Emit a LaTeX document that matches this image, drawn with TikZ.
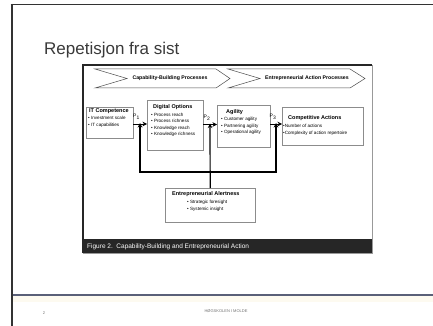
\documentclass[tikz,border=0pt]{standalone}
\usepackage{fontspec}
\setmainfont{Liberation Sans}
\usetikzlibrary{arrows.meta}

\definecolor{slideline}{HTML}{333333}
\definecolor{footline}{HTML}{5A6078}
\definecolor{footband}{HTML}{FDFAF0}
\definecolor{titlegrey}{HTML}{3A3A3A}
\definecolor{capbar}{HTML}{262626}

\begin{document}
\begin{tikzpicture}[x=1pt,y=-1pt,
  box/.style={draw=black!45, line width=0.4pt, fill=white, inner sep=0pt, anchor=north west},
  ttl/.style={font=\fontsize{5.5}{6}\selectfont\bfseries, anchor=north west, inner sep=0pt},
  lst/.style={font=\fontsize{4.6}{6.6}\selectfont, anchor=north west, inner sep=0pt, align=left},
  link/.style={line width=1.2pt, black},
  tip/.style={-{Stealth[length=4.5pt,width=4.5pt]}},
  chev/.style={draw=black!70, line width=0.5pt, fill=white},
  chevtxt/.style={font=\fontsize{5.2}{6}\selectfont\bfseries},
  plabel/.style={font=\fontsize{5}{6}\selectfont, inner sep=0pt},
]
% page and slide frame
\fill[white] (0,0) rectangle (433,326);
\useasboundingbox (0,0) rectangle (433,326);
\fill[footband] (12,296) rectangle (433,302);
\draw[slideline, line width=2pt] (11.5,4) -- (11.5,326);
\draw[slideline, line width=1.5pt] (10.5,4.5) -- (433,4.5);
\draw[footline, line width=1.4pt] (12.5,295) -- (433,295);

% title
\node[anchor=base west, inner sep=0pt, text=titlegrey, font=\fontsize{17}{20}\selectfont] (title) at (44,55) {Repetisjon fra sist};

% figure frame and caption bar
\draw[black!40, line width=0.6pt] (83,65) rectangle (372,253);
\draw[black!85, line width=1.2pt] (83,253) -- (83,65) -- (372,65);
\fill[capbar] (83,239) rectangle (372.3,253);
\node[anchor=west, inner sep=0pt, text=white, font=\fontsize{6.5}{7}\selectfont] (caption) at (87,246.5) {Figure 2.\ \ Capability-Building and Entrepreneurial Action};

% process chevrons
\draw[chev] (95,69) -- (216,69) -- (230,78.5) -- (216,88) -- (95,88) -- (127,78.5) -- cycle;
\draw[chev] (228,69) -- (350,69) -- (365,78.5) -- (350,88) -- (228,88) -- (260,78.5) -- cycle;
\node[chevtxt] (cbp) at (170,78.5) {Capability-Building Processes};
\node[chevtxt] (eap) at (307,78.5) {Entrepreneurial Action Processes};

% construct boxes
\node[box, minimum width=47, minimum height=31] (it) at (86,107) {};
\node[box, minimum width=56, minimum height=50] (do) at (147,100) {};
\node[box, minimum width=53, minimum height=42] (ag) at (217,105) {};
\node[box, minimum width=81, minimum height=38] (ca) at (282,107) {};
\node[box, minimum width=90, minimum height=34] (ea) at (165,188) {};

\node[ttl] (itt) at (89,108.5) {IT Competence};
\node[lst] (itl) at (88,116) {• Investment scale\\• IT capabilities};

\node[ttl] (dot) at (153,104) {Digital Options};
\node[lst] (dol) at (151,112.5) {• Process reach\\• Process richness\\• Knowledge reach\\• Knowledge richness};

\node[ttl] (agt) at (226,109) {Agility};
\node[lst] (agl) at (221,117) {• Customer agility\\• Partnering agility\\• Operational agility};

\node[ttl] (cat) at (288,115) {Competitive Actions};
\node[lst] (cal) at (283,124) {•Number of actions\\•Complexity of action repertoire};

\node[ttl] (eat) at (172,191) {Entrepreneurial Alertness};
\node[lst] (eal) at (187,200) {• Strategic foresight\\• Systemic insight};

% junction points of the propositions
\coordinate (j1) at (140,124);
\coordinate (j2) at (210,124.5);
\coordinate (j3) at (276,124);
\coordinate (b1) at (140,172);
\coordinate (b3) at (276,172);

% main effects P1-P3
\draw[link, line width=1pt, tip] (it.east |- j1) -- (do.west |- j1);
\draw[link, line width=1pt, tip] (do.east |- j2) -- (ag.west |- j2);
\draw[link, line width=1pt, tip] (ag.east |- j3) -- (ca.west |- j3);

% moderating loop from entrepreneurial alertness
\draw[link, {Stealth[length=4.5pt,width=4.5pt]}-{Stealth[length=4.5pt,width=4.5pt]}] ([yshift=1pt]j1) -- (b1) -- (b3) -- ([yshift=1pt]j3);
\draw[link, tip] (ea.north) -- ([yshift=1pt]j2);

\node[plabel] (p1) at (136.5,116.5) {P\textsubscript{1}};
\node[plabel] (p2) at (207,118) {P\textsubscript{2}};
\node[plabel] (p3) at (273,117) {P\textsubscript{3}};

% footer
\node[inner sep=0pt, text=black!55, font=\fontsize{4}{5}\selectfont] (foot) at (226,311) {HØGSKOLEN I MOLDE};
\node[inner sep=0pt, text=black!55, font=\fontsize{4}{5}\selectfont] (pg) at (44,313) {2};
\end{tikzpicture}
\end{document}
